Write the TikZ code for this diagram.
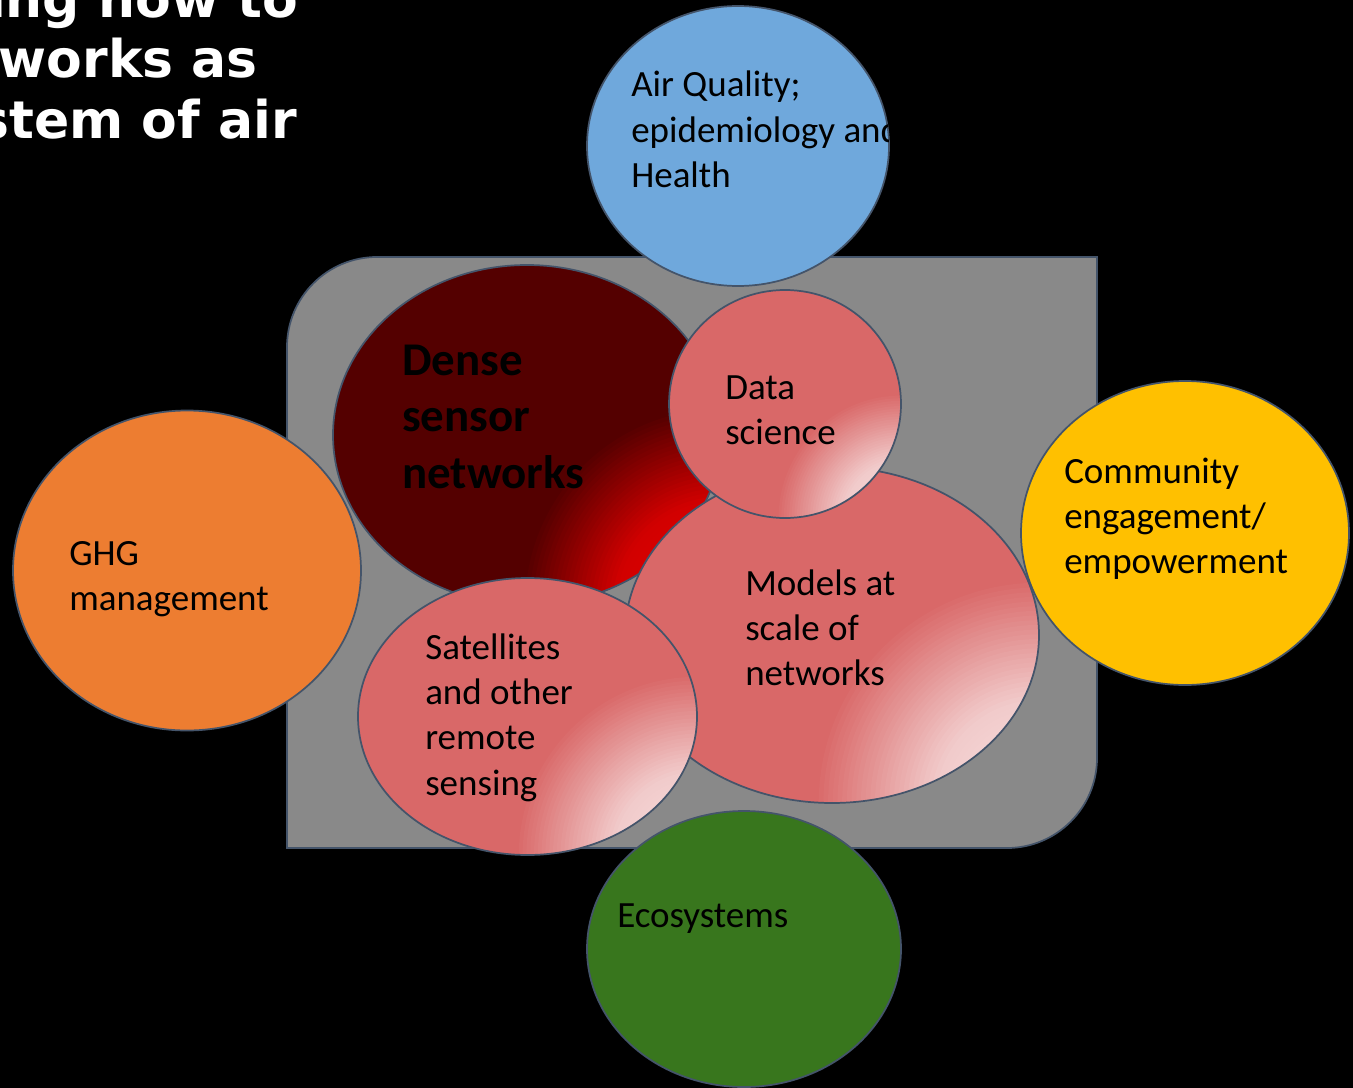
\documentclass[tikz,border=0pt]{standalone}
\usepackage{fontspec}
\setmainfont{Carlito}
\newfontfamily\headfont{DejaVu Sans}
\usetikzlibrary{shapes.geometric}

\definecolor{edge}{HTML}{44546A}
\definecolor{panelgray}{HTML}{898989}
\definecolor{skyblue}{HTML}{6FA8DC}
\definecolor{ghgorange}{HTML}{ED7D31}
\definecolor{commyellow}{HTML}{FFC000}
\definecolor{ecogreen}{HTML}{38761D}
\definecolor{salmon}{HTML}{D96868}
\definecolor{glowA}{HTML}{F8E4E4}
\definecolor{glowB}{HTML}{F1CACA}
\definecolor{maroon}{HTML}{540000}
\definecolor{redA}{HTML}{E40000}
\definecolor{redB}{HTML}{D20000}

% Radial glow made of concentric discs around point #1 with radius #2:
% centre colour #3, colour #4 at fraction #6 of the radius, colour #5 at the rim.
\newcommand\glowrings[6]{%
  \foreach \gk in {0,...,47}{%
    \pgfmathsetmacro\grel{1-\gk/48}%
    \pgfmathsetmacro\grad{#2*\grel}%
    \ifdim \grel pt > #6pt
      \pgfmathsetmacro\gpc{100*(\grel-#6)/(1-#6)}%
      \fill[#5!\gpc!#4] (#1) circle (\grad);
    \else
      \pgfmathsetmacro\gpc{100*\grel/#6}%
      \fill[#4!\gpc!#3] (#1) circle (\grad);
    \fi}}

\tikzset{
  bubble/.style 2 args={ellipse, draw=edge, line width=1.3pt, inner sep=0pt,
    outer sep=0pt, minimum width=#1*1.5pt, minimum height=#2*1.5pt},
  pinkglow/.style={path picture={%
    \glowrings{path picture bounding box.south east}{#1}{glowA}{glowB}{salmon}{0.47}}},
  redglow/.style={path picture={%
    \glowrings{path picture bounding box.south east}{#1}{redA}{redB}{maroon}{0.53}}},
  txt/.style={anchor=base west, inner sep=0pt, text=black,
    font=\fontsize{27.75}{34}\selectfont},
  boldtxt/.style={anchor=base west, inner sep=0pt, text=black,
    font=\bfseries\fontsize{35.2}{42.4}\selectfont},
  headline/.style={anchor=base east, inner sep=0pt, text=white,
    font=\headfont\bfseries\fontsize{39}{45}\selectfont},
}

\begin{document}
\begin{tikzpicture}[x=0.75pt, y=-0.75pt]
  \useasboundingbox (0,0) rectangle (1353,1088);
  \fill[black] (0,0) rectangle (1353,1088);

  % heading (runs off the left edge)
  \begin{scope}
    \clip (0,0) rectangle (1353,1088);
    \node[headline] (head1) at (298,18) {ing how to};
    \node[headline] (head2) at (258,78) {works as};
    \node[headline] (head3) at (297,138) {stem of air};
  \end{scope}

  % grey panel with two rounded diagonal corners
  \draw[edge, line width=1.3pt, fill=panelgray]
    (287,848) -- (287,347) .. controls (287,297.3) and (327.3,257) .. (377,257)
    -- (1097,257) -- (1097,758) .. controls (1097,807.7) and (1056.7,848) .. (1007,848)
    -- cycle;

  % inner bubbles
  \node[bubble={194}{170}, fill=maroon, redglow=200] (dense) at (527,435) {};
  \node[bubble={207}{168}, fill=salmon, pinkglow=225] (models) at (832,635) {};
  \node[bubble={116}{114}, fill=salmon, pinkglow=125] (datasci) at (785,404) {};
  \node[bubble={169.5}{138.5}, fill=salmon, pinkglow=182] (sats) at (527.5,716.5) {};

  % outer bubbles
  \node[bubble={151}{140}, fill=skyblue] (airq) at (738,146) {};
  \node[bubble={174}{160}, fill=ghgorange] (ghg) at (187,570.5) {};
  \node[bubble={164}{152}, fill=commyellow] (comm) at (1185,533) {};
  \node[bubble={157}{138}, fill=ecogreen] (eco) at (744,949) {};

  % labels
  \begin{scope}
    \clip (738,146) ellipse (151 and 140);
    \node[txt] (airq-text) at (631,97)
      {\vtop{\hbox{Air Quality;}\hbox{epidemiology and}\hbox{Health}}};
  \end{scope}
  \node[boldtxt] (dense-text) at (402,375)
    {\vtop{\hbox{Dense}\hbox{sensor}\hbox{networks}}};
  \node[txt] (datasci-text) at (725,399)
    {\vtop{\hbox{Data}\hbox{science}}};
  \node[txt] (models-text) at (745,595)
    {\vtop{\hbox{Models at}\hbox{scale of}\hbox{networks}}};
  \node[txt] (sats-text) at (425,659)
    {\vtop{\hbox{Satellites}\hbox{and other}\hbox{remote}\hbox{sensing}}};
  \node[txt] (ghg-text) at (69,565)
    {\vtop{\hbox{GHG}\hbox{management}}};
  \node[txt] (comm-text) at (1064,483)
    {\vtop{\hbox{Community}\hbox{engagement/}\hbox{empowerment}}};
  \node[txt] (eco-text) at (617,927) {Ecosystems};
\end{tikzpicture}
\end{document}
